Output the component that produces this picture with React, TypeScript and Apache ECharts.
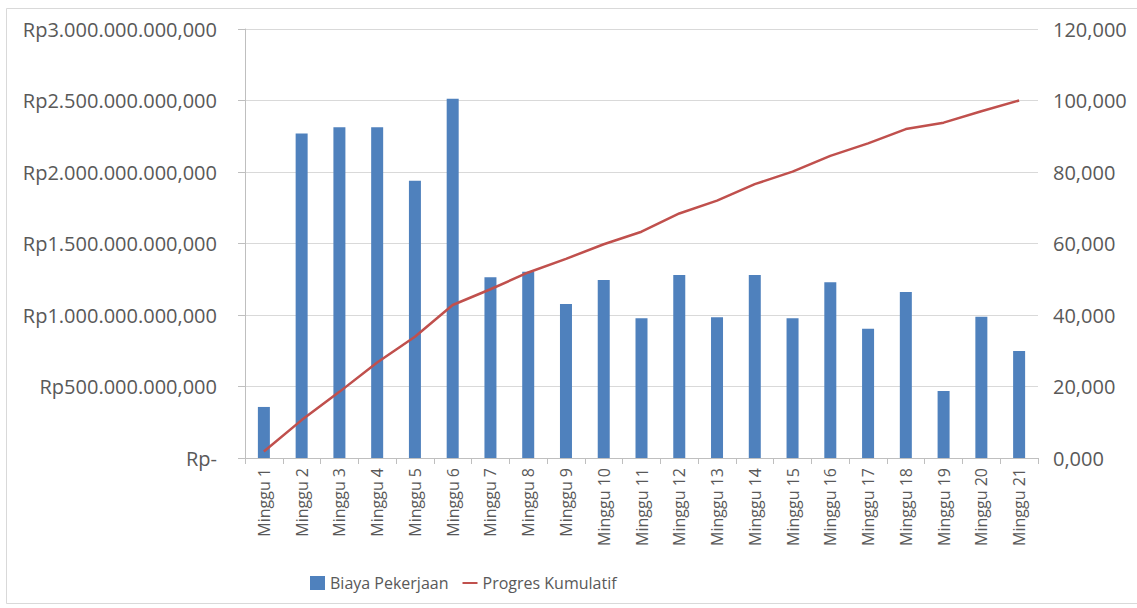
import React, { useEffect, useRef } from "react";
import * as echarts from "echarts";

const categories = [
  "Minggu 1", "Minggu 2", "Minggu 3", "Minggu 4", "Minggu 5", "Minggu 6", "Minggu 7",
  "Minggu 8", "Minggu 9", "Minggu 10", "Minggu 11", "Minggu 12", "Minggu 13", "Minggu 14",
  "Minggu 15", "Minggu 16", "Minggu 17", "Minggu 18", "Minggu 19", "Minggu 20", "Minggu 21",
];

// Biaya Pekerjaan (Rp)
const biayaPekerjaan = [
  357e6, 2270e6, 2313e6, 2313e6, 1939e6, 2513e6, 1264e6,
  1303e6, 1077e6, 1245e6, 977e6, 1280e6, 984e6, 1280e6,
  977e6, 1229e6, 904e6, 1161e6, 469e6, 988e6, 748e6,
];

// Progres Kumulatif (%)
const progresKumulatif = [
  1.8, 10.6, 18.5, 26.7, 33.9, 42.8, 47.2,
  51.9, 55.7, 59.8, 63.3, 68.4, 72.0, 76.6,
  80.1, 84.5, 88.0, 92.0, 93.8, 97.0, 100.0,
];

const seriesNames = ["Biaya Pekerjaan", "Progres Kumulatif"];

const FONT = "'Open Sans', 'Noto Sans', sans-serif";
const TEXT = "#595959";
const GRID = "#d9d9d9";

function formatRp(v: number): string {
  if (v === 0) return "Rp-";
  const s = Math.round(v).toString().replace(/\B(?=(\d{3})+(?!\d))/g, ".");
  return "Rp" + s + ",000";
}

export default function App() {
  const ref = useRef<HTMLDivElement>(null);
  useEffect(() => {
    document.body.style.margin = "0";
    if (!ref.current) return;
    const chart = echarts.init(ref.current, undefined, { renderer: "svg" });
    chart.setOption({
      animation: false,
      backgroundColor: "#ffffff",
      textStyle: { fontFamily: FONT, color: TEXT },
      graphic: [
        {
          type: "rect",
          shape: { x: 6.5, y: 8.5, width: 1140, height: 595 },
          style: { fill: "none", stroke: "#d9d9d9", lineWidth: 1 },
          silent: true,
        },
      ],
      grid: {
        left: 245,
        right: 99,
        top: 29,
        bottom: 150,
        containLabel: false,
        outerBoundsMode: "none",
      },
      legend: {
        left: 305,
        top: 570,
        itemWidth: 15,
        itemHeight: 14,
        itemGap: 14,
        symbolKeepAspect: true,
        textStyle: { fontFamily: FONT, fontSize: 16, color: TEXT },
        data: [
          { name: seriesNames[0], icon: "rect" },
          { name: seriesNames[1], icon: "path://M0,0 L15,0 L15,2 L0,2 Z" },
        ],
      },
      xAxis: {
        type: "category",
        data: categories,
        axisLine: { show: true, lineStyle: { color: "#bfbfbf" } },
        axisTick: { show: true, length: 6, lineStyle: { color: "#bfbfbf" } },
        axisLabel: {
          rotate: 90,
          interval: 0,
          margin: 10,
          fontSize: 16,
          color: TEXT,
          fontFamily: FONT,
        },
      },
      yAxis: [
        {
          type: "value",
          min: 0,
          max: 3e9,
          interval: 5e8,
          axisLine: { show: true, lineStyle: { color: "#bfbfbf" } },
          axisTick: { show: true, length: 7, lineStyle: { color: "#bfbfbf" } },
          splitLine: { show: true, lineStyle: { color: GRID } },
          axisLabel: {
            formatter: (v: number) => formatRp(v),
            fontSize: 20,
            margin: 28,
            color: TEXT,
            fontFamily: FONT,
          },
        },
        {
          type: "value",
          min: 0,
          max: 120,
          interval: 20,
          axisLine: { show: false },
          axisTick: { show: false },
          splitLine: { show: false },
          axisLabel: {
            formatter: (v: number) => v.toFixed(3).replace(".", ","),
            fontSize: 20,
            margin: 15,
            color: TEXT,
            fontFamily: FONT,
          },
        },
      ],
      series: [
        {
          name: seriesNames[0],
          type: "bar",
          data: biayaPekerjaan,
          barWidth: 12,
          itemStyle: { color: "#4f81bd" },
          yAxisIndex: 0,
        },
        {
          name: seriesNames[1],
          type: "line",
          data: progresKumulatif,
          yAxisIndex: 1,
          symbol: "none",
          lineStyle: { color: "#c0504d", width: 2.5 },
          itemStyle: { color: "#c0504d" },
        },
      ],
    });
    return () => chart.dispose();
  }, []);
  return <div ref={ref} style={{ width: 1137, height: 608 }} />;
}
